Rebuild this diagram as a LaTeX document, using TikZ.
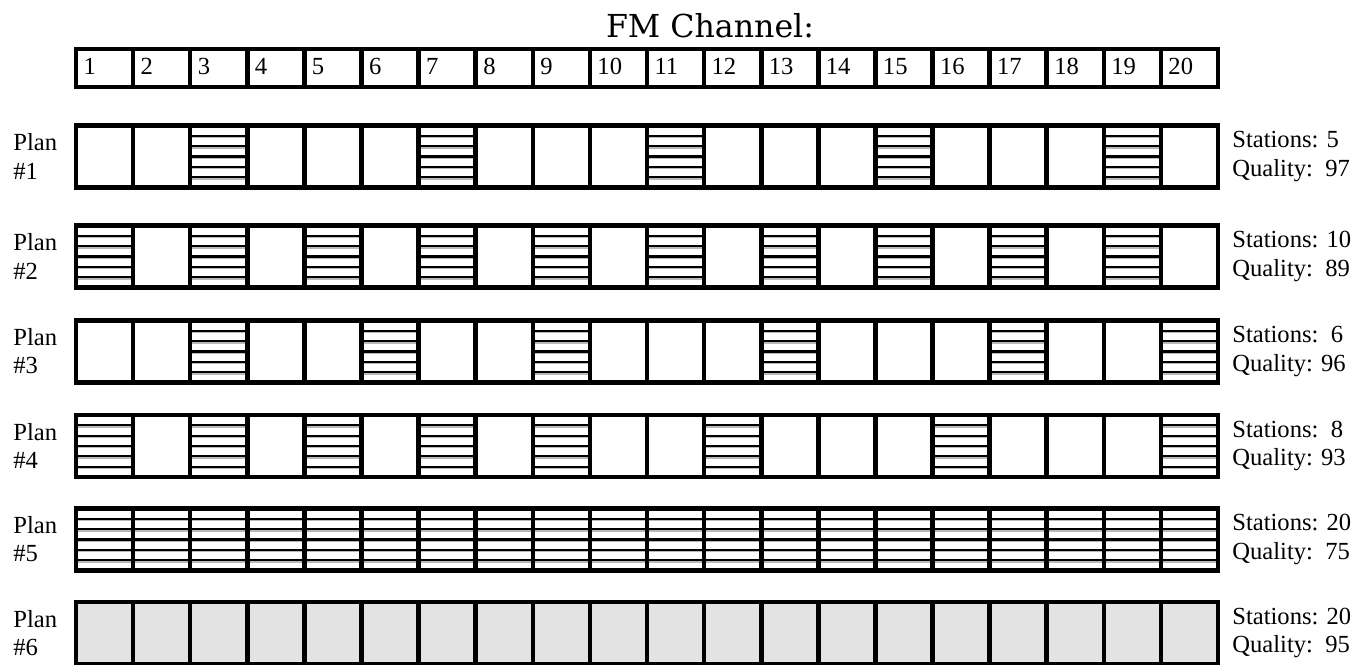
\documentclass[tikz,border=0pt]{standalone}
\usepackage{fontspec}
\setmainfont{Liberation Serif}
\newfontfamily\titlefont{DejaVu Serif}
\usetikzlibrary{calc}

\begin{document}
\begin{tikzpicture}[
x=0.02cm, y=-0.02cm,
font=\fontsize{14}{16}\selectfont,
cell/.style={draw, line width=2.6pt, minimum width=1.142cm, minimum height=1.24cm, inner sep=0pt},
head/.style={cell, minimum height=0.76cm, text width=0.84cm, inner xsep=0.15cm, align=left,
  text height=1.6ex, text depth=0pt},
station/.style={cell, path picture={
  \foreach \k in {1,...,5}{
    \draw[line width=1pt, gray!55]
      ($(path picture bounding box.north west)!\k/6!(path picture bounding box.south west)+(0,1.6)$) --
      ($(path picture bounding box.north east)!\k/6!(path picture bounding box.south east)+(0,1.6)$);
    \draw[line width=1.3pt]
      ($(path picture bounding box.north west)!\k/6!(path picture bounding box.south west)$) --
      ($(path picture bounding box.north east)!\k/6!(path picture bounding box.south east)$);}}},
shared/.style={cell, fill=gray!22},
tag/.style={align=left, anchor=west, inner sep=0pt}
]
\useasboundingbox (0,0) rectangle (1371,665);

% Title
\node[font=\titlefont\fontsize{18}{20}\selectfont] (title) at (710,26) {FM Channel:};

% Header (channel numbers)
\foreach \i in {1,...,20}
  \node[head] (h\i) at ({76+(\i-0.5)*57.1},68) {\i};

% Plans 1-5: channels in use are hatched
\foreach \p/\y/\used in {1/156.5/{3,7,11,15,19},
                         2/256.5/{1,3,...,19},
                         3/351.5/{3,6,9,13,17,20},
                         4/446/{1,3,5,7,9,12,16,20},
                         5/539.5/{1,...,20}}{
  \foreach \i in {1,...,20}
    \node[cell] (p\p-\i) at ({76+(\i-0.5)*57.1},\y) {};
  \foreach \i in \used
    \node[station] (s\p-\i) at ({76+(\i-0.5)*57.1},\y) {};
}

% Plan 6 (shared)
\foreach \i in {1,...,20}
  \node[shared] (p6-\i) at ({76+(\i-0.5)*57.1},633) {};

% Plan labels
\foreach \p/\y in {1/156.5, 2/256.5, 3/351.5, 4/446, 5/539.5, 6/633}
  \node[tag] (plan\p) at (13,\y) {Plan\\\#\p};

% Results
\node[tag] (res1) at (1232,156.5) {Stations: 5\\Quality:\ \ 97};
\node[tag] (res2) at (1232,256.5) {Stations: 10\\Quality:\ \ 89};
\node[tag] (res3) at (1232,351.5) {Stations:\ \ 6\\Quality: 96};
\node[tag] (res4) at (1232,446) {Stations:\ \ 8\\Quality: 93};
\node[tag] (res5) at (1232,539.5) {Stations: 20\\Quality:\ \ 75};
\node[tag] (res6) at (1232,633) {Stations: 20\\Quality:\ \ 95};

\end{tikzpicture}
\end{document}
